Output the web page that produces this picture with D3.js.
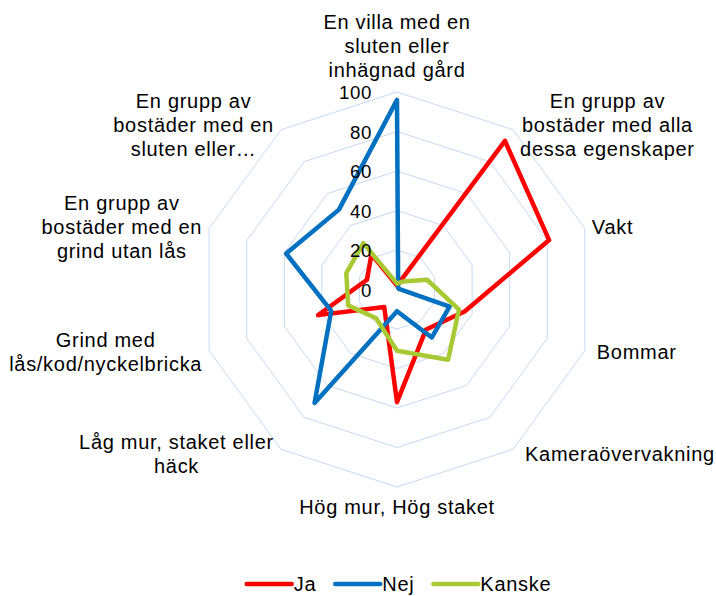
<!DOCTYPE html>
<html>
<head>
  <meta charset="utf-8">
  <title>Radar</title>
  <script src="https://d3js.org/d3.v7.min.js"></script>
  <style>
    body { margin: 0; background: #fff; }
    text { font-family: "Liberation Sans", Arial, sans-serif; fill: #000; }
  </style>
</head>
<body>
<svg></svg>
<script>

  // Categories (one array of lines per axis, clockwise from the top)
  var categories = [
    ["En villa med en", "sluten eller", "inhägnad gård"],
    ["En grupp av", "bostäder med alla", "dessa egenskaper"],
    ["Vakt"],
    ["Bommar"],
    ["Kameraövervakning"],
    ["Hög mur, Hög staket"],
    ["Låg mur, staket eller", "häck"],
    ["Grind med", "lås/kod/nyckelbricka"],
    ["En grupp av", "bostäder med en", "grind utan lås"],
    ["En grupp av", "bostäder med en", "sluten eller…"]
  ];

  // Series values
  var ja     = [2, 93, 81, 36, 25, 57, 11, 42, 16, 22];
  var nej    = [96, 1, 1, 28, 30, 11, 71, 35, 59, 50];
  var kanske = [3, 5, 16, 33, 44, 31, 18, 26, 27, 29];

  var seriesNames = ["Ja", "Nej", "Kanske"];
  var tickValues = [0, 20, 40, 60, 80, 100];

  var colors = {"Ja": "#ff0000", "Nej": "#0070c0", "Kanske": "#a9c934"};
  var seriesData = {"Ja": ja, "Nej": nej, "Kanske": kanske};

  var width = 716, height = 596;
  var cx = 397, cy = 289.5, R = 197.5;

  var svg = d3.select("svg")
      .attr("width", width)
      .attr("height", height);

  var n = categories.length;

  // scales
  var r = d3.scaleLinear().domain([0, 100]).range([0, R]);
  var angle = d3.scaleLinear().domain([0, n]).range([0, 2 * Math.PI]);

  var chart = svg.append("g")
      .attr("transform", "translate(" + cx + "," + cy + ")");

  // grid rings
  var ring = d3.lineRadial()
      .angle(function(d, i) { return angle(i); })
      .radius(function(d) { return r(d); })
      .curve(d3.curveLinearClosed);

  tickValues.filter(function(t) { return t > 0; }).forEach(function(t) {
    chart.append("path")
        .attr("d", ring(categories.map(function() { return t; })))
        .attr("fill", "none")
        .attr("stroke", "#c6d9f1")
        .attr("stroke-width", 1);
  });

  // series
  seriesNames.forEach(function(name) {
    chart.append("path")
        .attr("d", ring(seriesData[name]))
        .attr("fill", "none")
        .attr("stroke", colors[name])
        .attr("stroke-width", 4.5)
        .attr("stroke-linejoin", "round");
  });

  // tick labels along the first axis
  chart.selectAll(".tick")
      .data(tickValues)
      .enter().append("text")
      .attr("class", "tick")
      .attr("x", -25)
      .attr("y", function(d) { return -r(d) + 7; })
      .attr("text-anchor", "end")
      .style("font-size", "18.7px")
      .style("letter-spacing", "0.6px")
      .text(function(d) { return d; });

  // category labels
  var lineH = 24;
  categories.forEach(function(lines, i) {
    var a = angle(i);
    var s = Math.sin(a), c = Math.cos(a);
    var vx = cx + R * s, vy = cy - R * c;
    var gap = (c < 0 && s > 0) ? 12 : 7;

    var t = svg.append("text")
        .attr("text-anchor", "middle")
        .style("font-size", "20px")
        .style("letter-spacing", "0.7px");
    var spans = lines.map(function(line) {
      return t.append("tspan").text(line);
    });
    var w = d3.max(spans, function(sp) { return sp.node().getComputedTextLength(); });

    var bx;
    if (Math.abs(s) < 0.01) bx = vx;
    else if (s > 0) bx = vx + gap + w / 2;
    else bx = vx - gap - w / 2;

    var firstY;
    if (Math.abs(s) < 0.01 && c > 0) firstY = vy - 14.7 - lineH * (lines.length - 1);
    else if (Math.abs(s) < 0.01) firstY = vy + 27;
    else firstY = (vy - 6 * c) + 7 - (lineH / 2) * (lines.length - 1);

    spans.forEach(function(sp, k) {
      sp.attr("x", bx).attr("y", firstY + k * lineH);
    });
  });

  // legend
  var legend = svg.append("g");
  var lx = 0;
  seriesNames.forEach(function(name) {
    var g = legend.append("g").attr("transform", "translate(" + lx + ",0)");
    g.append("line")
        .attr("x1", 0).attr("x2", 45)
        .attr("y1", 0).attr("y2", 0)
        .attr("stroke", colors[name])
        .attr("stroke-width", 4.5)
        .attr("stroke-linecap", "round");
    var tx = g.append("text")
        .attr("x", 47)
        .attr("y", 7)
        .style("font-size", "20px")
        .style("letter-spacing", "0.7px")
        .text(name);
    lx += 47 + tx.node().getComputedTextLength() + 19;
  });
  var legendW = lx - 19;
  legend.attr("transform", "translate(" + (399 - legendW / 2) + ",584)");

</script>
</body>
</html>
